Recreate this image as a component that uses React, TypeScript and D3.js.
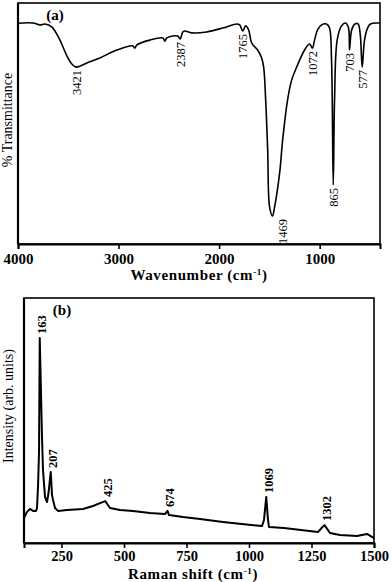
import { useEffect, useRef } from "react";
import * as d3 from "d3";

// FTIR spectrum (panel a)
const ftirWavenumber = [4000, 3851, 3782, 3732, 3662, 3583, 3513, 3464, 3421, 3315, 3186, 3017, 2858, 2838, 2818, 2689, 2560, 2540, 2520, 2461, 2411, 2387, 2361, 2342, 2272, 2123, 1964, 1825, 1795, 1765, 1736, 1706, 1676, 1617, 1577, 1557, 1537, 1517, 1498, 1469, 1448, 1398, 1368, 1319, 1279, 1229, 1150, 1100, 1072, 1051, 1021, 981, 932, 902, 882, 865, 852, 826, 783, 743, 713, 703, 682, 649, 618, 596, 577, 554, 524, 495, 425, 405];
const ftirTransmittance = [91.6, 91.7, 90.9, 91.3, 90.0, 84.6, 78.0, 74.7, 73.4, 75.1, 77.2, 80.5, 82.2, 81.3, 82.6, 84.6, 85.5, 84.2, 85.5, 86.3, 86.3, 85.1, 88.0, 88.4, 87.6, 88.0, 89.6, 91.3, 90.9, 88.4, 90.5, 88.8, 83.4, 80.5, 77.2, 73.4, 59.8, 39.0, 15.4, 11.6, 15.4, 29.5, 43.2, 59.8, 68.0, 73.4, 80.5, 83.0, 81.3, 84.6, 88.8, 90.9, 91.3, 89.6, 76.3, 24.5, 59.8, 84.6, 90.5, 91.7, 89.6, 80.5, 88.8, 91.3, 91.3, 86.7, 73.4, 84.6, 89.6, 91.3, 91.7, 91.7];
const ftirPeaks = [3421, 2387, 1765, 1469, 1072, 865, 703, 577];
const ftirTicks = [4000, 3000, 2000, 1000];

// Raman spectrum (panel b)
const ramanShift = [100, 112, 124, 136, 148, 152, 156, 160, 163, 172, 176, 184, 192, 198, 207, 212, 216, 224, 236, 272, 336, 376, 404, 425, 444, 484, 536, 604, 664, 674, 680, 736, 804, 896, 1052, 1060, 1069, 1076, 1080, 1140, 1208, 1276, 1290, 1302, 1324, 1364, 1432, 1472, 1500];
const ramanIntensity = [10.2, 12.7, 13.9, 13.1, 13.1, 14.3, 22.9, 36.7, 83.7, 43.3, 29.8, 18.8, 16.7, 20.4, 29.0, 19.6, 17.6, 14.3, 13.1, 13.5, 13.9, 15.1, 16.3, 17.1, 14.3, 13.5, 13.1, 12.2, 11.8, 13.1, 11.4, 10.6, 9.8, 8.6, 6.9, 9.4, 18.8, 9.4, 6.5, 6.1, 5.3, 4.5, 6.1, 7.3, 4.1, 3.3, 2.9, 3.7, 2.0];
const ramanPeaks = [163, 207, 425, 674, 1069, 1302];
const ramanTicks = [250, 500, 750, 1000, 1250, 1500];

const SERIF = "'Liberation Serif', 'Times New Roman', serif";

export default function App() {
  const ref = useRef<SVGSVGElement>(null);

  useEffect(() => {
    const svg = d3.select(ref.current);
    svg.selectAll("*").remove();

    // ---------- panel (a) ----------
    const ax = { left: 18, right: 380, top: 3, bottom: 244 };
    const xA = d3.scaleLinear().domain([4000, 400]).range([ax.left, ax.right]);
    const yA = d3.scaleLinear().domain([0, 100]).range([ax.bottom, ax.top]);

    const gA = svg.append("g");
    gA.append("rect")
      .attr("x", ax.left).attr("y", ax.top)
      .attr("width", ax.right - ax.left).attr("height", ax.bottom - ax.top)
      .attr("fill", "none").attr("stroke", "#000").attr("stroke-width", 1.6);

    const axisA = gA.append("g")
      .attr("transform", "translate(0," + ax.bottom + ")")
      .call(d3.axisBottom(xA).tickValues(ftirTicks).tickSize(5).tickPadding(4).tickFormat(d3.format("d")));
    axisA.select(".domain").attr("stroke-width", 2);
    axisA.selectAll(".tick line").attr("stroke-width", 1.6);
    axisA.selectAll("text")
      .attr("font-family", SERIF).attr("font-weight", "bold").attr("font-size", 15).attr("fill", "#000");
    gA.append("line")
      .attr("x1", ax.left).attr("x2", ax.left).attr("y1", ax.top).attr("y2", ax.bottom)
      .attr("stroke", "#000").attr("stroke-width", 2.2);

    const ftir = ftirWavenumber.map((w, i) => ({ x: w, y: ftirTransmittance[i] }));
    const lineA = d3.line<{ x: number; y: number }>()
      .x(d => xA(d.x)).y(d => yA(d.y)).curve(d3.curveCatmullRom.alpha(0.5));
    gA.append("path")
      .attr("d", lineA(ftir))
      .attr("fill", "none").attr("stroke", "#000").attr("stroke-width", 1.6);

    ftirPeaks.forEach(p => {
      const t = ftirTransmittance[ftirWavenumber.indexOf(p)];
      const dx = p === 1469 ? 10 : 0;
      gA.append("text")
        .attr("transform", `translate(${xA(p) + dx},${yA(t) + 3}) rotate(-90)`)
        .attr("text-anchor", "end").attr("dy", "0.35em")
        .attr("font-family", SERIF).attr("font-size", 12.5)
        .text(p);
    });

    gA.append("text")
      .attr("x", 55).attr("y", 20).attr("text-anchor", "middle")
      .attr("font-family", SERIF).attr("font-weight", "bold").attr("font-size", 15)
      .text("(a)");

    gA.append("text")
      .attr("transform", "translate(12,120) rotate(-90)")
      .attr("text-anchor", "middle")
      .attr("font-family", SERIF).attr("font-size", 14)
      .text("% Transmittance");

    const tA = gA.append("text")
      .attr("x", 199).attr("y", 280).attr("text-anchor", "middle")
      .attr("font-family", SERIF).attr("font-weight", "bold").attr("font-size", 15)
      .attr("letter-spacing", 0.6);
    tA.append("tspan").text("Wavenumber (cm");
    tA.append("tspan").attr("dy", -5).attr("font-size", 9).text("-1");
    tA.append("tspan").attr("dy", 5).text(")");

    // ---------- panel (b) ----------
    const bx = { left: 24, right: 374, top: 298, bottom: 543 };
    const xB = d3.scaleLinear().domain([100, 1500]).range([bx.left, bx.right]);
    const yB = d3.scaleLinear().domain([0, 100]).range([bx.bottom, bx.top]);

    const gB = svg.append("g");
    gB.append("rect")
      .attr("x", bx.left).attr("y", bx.top)
      .attr("width", bx.right - bx.left).attr("height", bx.bottom - bx.top)
      .attr("fill", "none").attr("stroke", "#000").attr("stroke-width", 1.6);

    const axisB = gB.append("g")
      .attr("transform", "translate(0," + bx.bottom + ")")
      .call(d3.axisBottom(xB).tickValues(ramanTicks).tickSize(5).tickPadding(3).tickFormat(d3.format("d")));
    axisB.select(".domain").attr("stroke-width", 2);
    axisB.selectAll(".tick line").attr("stroke-width", 1.6);
    axisB.selectAll("text")
      .attr("font-family", SERIF).attr("font-weight", "bold").attr("font-size", 14.5).attr("fill", "#000");
    gB.append("line")
      .attr("x1", bx.left).attr("x2", bx.left).attr("y1", bx.top).attr("y2", bx.bottom)
      .attr("stroke", "#000").attr("stroke-width", 2.2);

    const raman = ramanShift.map((s, i) => ({ x: s, y: ramanIntensity[i] }));
    const lineB = d3.line<{ x: number; y: number }>()
      .x(d => xB(d.x)).y(d => yB(d.y)).curve(d3.curveLinear);
    gB.append("path")
      .attr("d", lineB(raman))
      .attr("fill", "none").attr("stroke", "#000").attr("stroke-width", 2)
      .attr("stroke-linejoin", "round");

    ramanPeaks.forEach(p => {
      const v = ramanIntensity[ramanShift.indexOf(p)];
      gB.append("text")
        .attr("transform", `translate(${xB(p) + 2},${yB(v) - 4}) rotate(-90)`)
        .attr("text-anchor", "start").attr("dy", "0.35em")
        .attr("font-family", SERIF).attr("font-weight", "bold").attr("font-size", 12.5)
        .text(p);
    });

    gB.append("text")
      .attr("x", 62).attr("y", 315).attr("text-anchor", "middle")
      .attr("font-family", SERIF).attr("font-weight", "bold").attr("font-size", 15)
      .text("(b)");

    gB.append("text")
      .attr("transform", "translate(13,406) rotate(-90)")
      .attr("text-anchor", "middle")
      .attr("font-family", SERIF).attr("font-size", 14)
      .text("Intensity (arb. units)");

    const tB = gB.append("text")
      .attr("x", 193).attr("y", 579).attr("text-anchor", "middle")
      .attr("font-family", SERIF).attr("font-weight", "bold").attr("font-size", 15)
      .attr("letter-spacing", 0.6);
    tB.append("tspan").text("Raman shift (cm");
    tB.append("tspan").attr("dy", -5).attr("font-size", 9).text("-1");
    tB.append("tspan").attr("dy", 5).text(")");
  }, []);

  return (
    <svg
      ref={ref}
      width={392}
      height={582}
      style={{ position: "absolute", left: 0, top: 0, background: "#fff" }}
    />
  );
}
